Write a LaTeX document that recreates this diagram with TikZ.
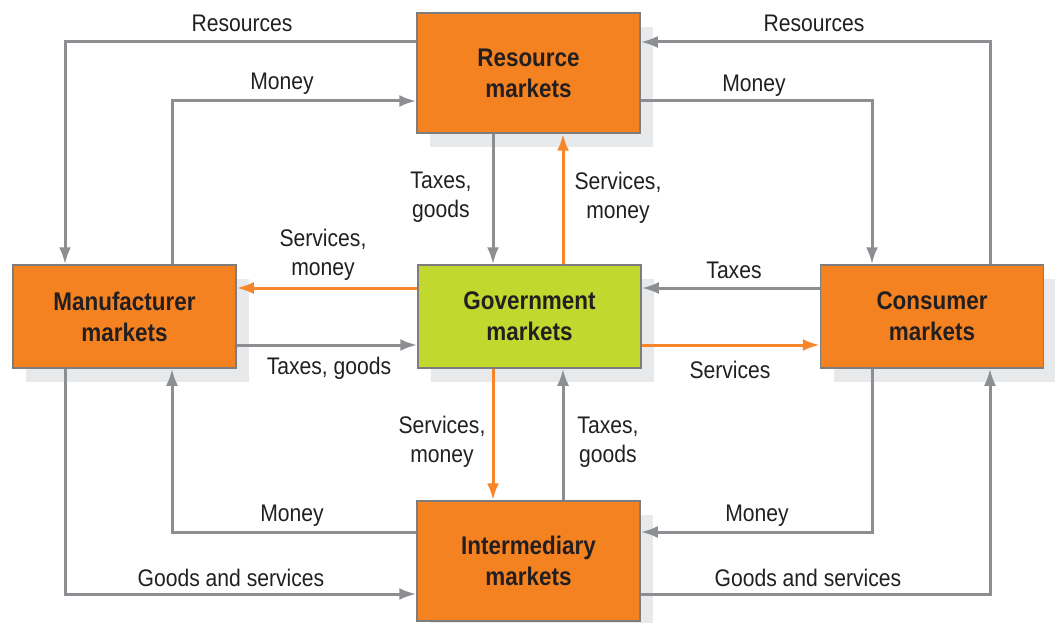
\documentclass[tikz,border=0pt]{standalone}
\usepackage{fontspec}
\setmainfont{Liberation Sans}[FakeStretch=0.88]
\usetikzlibrary{arrows.meta,shadows}
\definecolor{boxorange}{HTML}{F58220}
\definecolor{boxgreen}{HTML}{C1D82F}
\definecolor{boxborder}{HTML}{7D7D7D}
\definecolor{shadowc}{HTML}{E8E9EA}
\definecolor{lgray}{HTML}{8C8E91}
\definecolor{lorange}{HTML}{F7862A}
\definecolor{txt}{HTML}{231F20}
\begin{document}
\begin{tikzpicture}[x=1pt,y=-1pt,
  mbox/.style={draw=boxborder, line width=1.5pt, fill=boxorange, minimum width=223pt,
    align=center, text=txt, font=\fontsize{25.5}{31}\selectfont\bfseries, inner sep=0pt,
    general shadow={fill=shadowc, shadow xshift=13pt, shadow yshift=-14pt}},
  lab/.style={align=center, text=txt, font=\fontsize{24}{29}\selectfont, inner sep=0pt},
  gline/.style={draw=lgray, line width=3pt, -{Latex[length=17pt,width=12pt]}},
  oline/.style={draw=lorange, line width=3pt, -{Latex[length=17pt,width=12pt]}}
]
\useasboundingbox (0,0) rectangle (1055,623);
% boxes
\node[mbox, minimum height=120pt] (res) at (528.5,73) {Resource\\markets};
\node[mbox, minimum height=103pt] (man) at (124.5,316.5) {Manufacturer\\markets};
\node[mbox, minimum height=103pt, fill=boxgreen] (gov) at (529.5,316.5) {Government\\markets};
\node[mbox, minimum height=103pt] (con) at (932,316.5) {Consumer\\markets};
\node[mbox, minimum height=120pt] (int) at (528.5,561) {Intermediary\\markets};
% helper coordinates
\coordinate (rl) at (65,42);
\coordinate (ml) at (172,101);
\coordinate (rr) at (990,42);
\coordinate (mr) at (872,101);
\coordinate (c1) at (493,0);
\coordinate (c2) at (563,0);
\coordinate (r1) at (0,288);
\coordinate (r2) at (0,345);
\coordinate (mbl) at (172,532);
\coordinate (gbl) at (65,594);
\coordinate (mbr) at (872,532);
\coordinate (gbr) at (990,594);
% connectors
\draw[gline] (res.west |- rl) -| (rl |- man.north);
\draw[gline] (ml |- man.north) |- (res.west |- ml);
\draw[gline] (rr |- con.north) |- (res.east |- rr);
\draw[gline] (res.east |- mr) -| (mr |- con.north);
\draw[gline] (c1 |- res.south) -- (c1 |- gov.north);
\draw[oline] (c2 |- gov.north) -- (c2 |- res.south);
\draw[oline] (gov.west |- r1) -- (man.east |- r1);
\draw[gline] (man.east |- r2) -- (gov.west |- r2);
\draw[gline] (con.west |- r1) -- (gov.east |- r1);
\draw[oline] (gov.east |- r2) -- (con.west |- r2);
\draw[oline] (c1 |- gov.south) -- (c1 |- int.north);
\draw[gline] (c2 |- int.north) -- (c2 |- gov.south);
\draw[gline] (int.west |- mbl) -| (mbl |- man.south);
\draw[gline] (gbl |- man.south) |- (int.west |- gbl);
\draw[gline] (mbr |- con.south) |- (int.east |- mbr);
\draw[gline] (int.east |- gbr) -| (gbr |- con.south);
% labels
\node[lab] (t1) at (242,23) {Resources};
\node[lab] (t2) at (282,84) {Money};
\node[lab] (t3) at (814,23) {Resources};
\node[lab] (t4) at (754,86) {Money};
\node[lab] (t5) at (441,197) {Taxes,\\goods};
\node[lab] (t6) at (618,198) {Services,\\money};
\node[lab] (t7) at (323,255) {Services,\\money};
\node[lab] (t8) at (329,368) {Taxes, goods};
\node[lab] (t9) at (734,270) {Taxes};
\node[lab] (t10) at (730,370) {Services};
\node[lab] (t11) at (442,442) {Services,\\money};
\node[lab] (t12) at (608,442) {Taxes,\\goods};
\node[lab] (t13) at (292,516) {Money};
\node[lab] (t14) at (231,578) {Goods and services};
\node[lab] (t15) at (757,516) {Money};
\node[lab] (t16) at (808,578) {Goods and services};
\end{tikzpicture}
\end{document}
